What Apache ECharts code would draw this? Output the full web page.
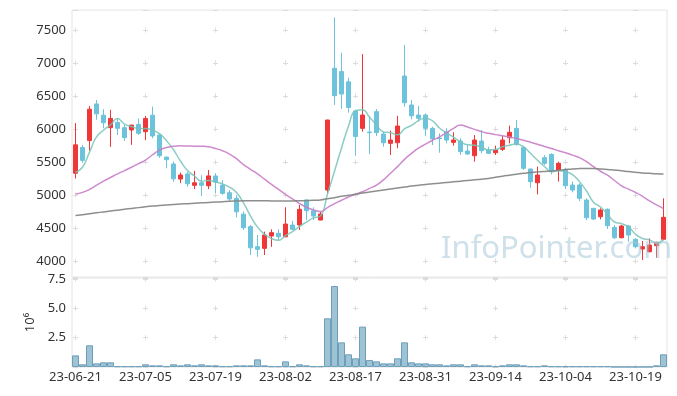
<!DOCTYPE html>
<html><head><meta charset="utf-8">
<script src="https://cdn.jsdelivr.net/npm/echarts@6/dist/echarts.min.js"></script>
<style>html,body{margin:0;padding:0;background:#fff}#c{width:677px;height:396px}</style>
</head><body><div id="c"></div>
<script>
const dates = ['23-06-21','23-06-22','23-06-23','23-06-26','23-06-27','23-06-28','23-06-29','23-06-30','23-07-03','23-07-04','23-07-05','23-07-06','23-07-07','23-07-10','23-07-11','23-07-12','23-07-13','23-07-14','23-07-17','23-07-18','23-07-19','23-07-20','23-07-21','23-07-24','23-07-25','23-07-26','23-07-27','23-07-28','23-07-31','23-08-01','23-08-02','23-08-03','23-08-04','23-08-07','23-08-08','23-08-09','23-08-10','23-08-11','23-08-14','23-08-16','23-08-17','23-08-18','23-08-21','23-08-22','23-08-23','23-08-24','23-08-25','23-08-28','23-08-29','23-08-30','23-08-31','23-09-01','23-09-04','23-09-05','23-09-06','23-09-07','23-09-08','23-09-11','23-09-12','23-09-13','23-09-14','23-09-15','23-09-18','23-09-19','23-09-20','23-09-21','23-09-22','23-09-25','23-09-26','23-09-27','23-10-04','23-10-05','23-10-06','23-10-10','23-10-11','23-10-12','23-10-13','23-10-16','23-10-17','23-10-18','23-10-19','23-10-20','23-10-23','23-10-24','23-10-25'];
const opens = [5330,5720,5825,6380,6210,6020,6100,6020,5985,6070,5960,6210,5910,5575,5470,5242,5318,5147,5186,5140,5288,5150,5035,4950,4710,4520,4217,4192,4380,4420,4368,4545,4545,4924,4762,4621,5076,6920,6870,6715,6273,6010,5955,6263,5925,5783,5792,6803,6364,6212,6212,6010,5862,5959,5798,5818,5667,5596,5818,5682,5641,5692,5868,6010,5717,5394,5186,5565,5616,5379,5389,5151,5151,4924,4798,4671,4783,4510,4353,4530,4329,4182,4141,4232,4329];
const closes = [5760,5525,6300,6230,6095,6160,6010,5870,6060,5935,6160,5895,5595,5535,5245,5303,5170,5186,5147,5290,5197,5025,4940,4745,4505,4200,4177,4394,4430,4368,4560,4480,4783,4762,4682,4712,6136,6505,6530,6325,5885,6212,5945,5945,5792,5833,6045,6398,6200,6162,6010,5850,5855,5833,5833,5656,5621,5833,5671,5632,5682,5833,5950,5768,5405,5202,5303,5480,5368,5480,5141,5076,4950,4656,4636,4773,4535,4353,4530,4394,4217,4217,4242,4283,4662];
const lows = [5250,5490,5670,6140,6010,5730,5910,5820,5760,5910,5830,5860,5565,5405,5200,5180,5125,5090,4985,5090,5030,5005,4900,4660,4470,4090,4065,4090,4215,4308,4360,4470,4470,4620,4620,4620,5025,6365,6305,6247,5595,5960,5620,5895,5732,5606,5708,6338,6147,6111,5894,5758,5641,5783,5748,5606,5606,5505,5632,5621,5606,5667,5783,5748,5379,5110,5010,5455,5313,5202,5091,5040,4909,4621,4621,4631,4485,4333,4343,4292,4192,4015,4131,4050,4318];
const highs = [6090,5760,6350,6440,6300,6290,6160,6060,6065,6160,6200,6340,5915,5580,5505,5340,5350,5365,5300,5380,5330,5225,5075,5000,4750,4545,4395,4445,4480,4480,4815,4610,4848,4930,4813,4745,6140,7690,7155,6777,6290,7135,6197,6303,5960,5975,6200,7273,6440,6348,6237,6035,5935,6010,5950,5859,5758,5909,5985,5732,5748,5894,6050,6136,5748,5400,5430,5606,5632,5505,5414,5202,5177,4950,4805,4798,4798,4545,4545,4545,4343,4303,4343,4292,4950];
const ma5 = [5345,5420,5650,5880,5982,6062,6159,6073,6039,6007,6007,5984,5929,5824,5686,5515,5370,5288,5210,5219,5198,5169,5120,5039,4882,4683,4513,4404,4341,4314,4386,4446,4524,4591,4653,4684,5015,5359,5713,6042,6276,6291,6179,6062,5956,5945,5912,6003,6054,6128,6163,6124,6015,5942,5876,5805,5760,5755,5723,5683,5688,5730,5754,5773,5728,5632,5526,5432,5352,5367,5354,5309,5203,5061,4892,4818,4710,4591,4565,4517,4406,4342,4320,4271,4324];
const ma20 = [5015,5040,5085,5150,5210,5265,5320,5370,5420,5475,5530,5610,5680,5720,5740,5745,5742,5740,5738,5730,5705,5670,5620,5550,5460,5390,5320,5240,5160,5085,5010,4940,4870,4815,4775,4750,4810,4870,4920,4970,5010,5050,5100,5150,5230,5330,5430,5540,5630,5710,5770,5830,5880,5945,6010,6060,6030,5995,5960,5935,5915,5898,5880,5855,5830,5800,5768,5735,5705,5670,5640,5605,5566,5505,5430,5360,5300,5220,5140,5090,5040,4980,4910,4850,4795];
const ma120 = [4688,4702,4716,4730,4744,4758,4771,4784,4797,4809,4821,4832,4841,4849,4856,4863,4869,4875,4881,4887,4893,4899,4905,4909,4912,4913,4913,4912,4911,4910,4910,4911,4913,4916,4920,4926,4945,4960,4980,4995,5010,5030,5045,5060,5075,5090,5105,5120,5135,5148,5160,5170,5180,5190,5200,5210,5220,5230,5240,5252,5268,5285,5300,5315,5328,5340,5350,5358,5365,5375,5385,5395,5400,5403,5400,5395,5388,5378,5368,5355,5345,5335,5328,5322,5318];
const volumes = [0.99,0.23,1.85,0.31,0.40,0.40,0.06,0.06,0.06,0.06,0.23,0.14,0.14,0.06,0.23,0.14,0.23,0.14,0.23,0.14,0.14,0.06,0.06,0.14,0.14,0.14,0.65,0.14,0.06,0.06,0.48,0.06,0.23,0.14,0.06,0.06,4.15,6.9,2.1,1.08,0.74,3.44,0.6,0.48,0.31,0.31,0.74,2.1,0.40,0.31,0.31,0.23,0.23,0.14,0.23,0.23,0.06,0.23,0.14,0.14,0.06,0.14,0.23,0.23,0.14,0.06,0.06,0.14,0.06,0.06,0.06,0.06,0.06,0.06,0.06,0.06,0.06,0.01,0.01,0.01,0.01,0.01,0.01,0.14,1.08];

const candleData = dates.map((d, i) => [opens[i], closes[i], lows[i], highs[i]]);
const FONT = 'Noto Sans';
const crossColor = '#dcdcdc';

const chart = echarts.init(document.getElementById('c'), null, {renderer: 'canvas'});
chart.setOption({
  animation: false,
  backgroundColor: '#fff',
  textStyle: {fontFamily: FONT},
  grid: [
    {left: 72, right: 10, top: 10, height: 267, show: true, borderColor: '#e4e4e4', borderWidth: 1, outerBoundsMode: 'none', containLabel: false},
    {left: 72, right: 10, top: 278, height: 89, show: true, borderColor: '#e4e4e4', borderWidth: 1, outerBoundsMode: 'none', containLabel: false}
  ],
  xAxis: [
    {type: 'category', gridIndex: 0, data: dates, boundaryGap: true,
     axisLine: {show: false}, axisTick: {show: false}, axisLabel: {show: false, interval: 9},
     splitLine: {show: true, interval: 9, alignWithLabel: true,
       lineStyle: {color: crossColor, width: 1, type: [5, 28], dashOffset: 15.5}}},
    {type: 'category', gridIndex: 1, data: dates, boundaryGap: true,
     axisLine: {show: false}, axisTick: {show: false},
     axisLabel: {show: true, interval: 9, fontSize: 13, color: '#333', fontFamily: FONT, margin: 4},
     splitLine: {show: true, interval: 9, alignWithLabel: true,
       lineStyle: {color: crossColor, width: 1, type: [5, 24.33], dashOffset: 1.5}}}
  ],
  yAxis: [
    {type: 'value', gridIndex: 0, min: 3758, max: 7803, splitNumber: 8, scale: true,
     axisLine: {show: false}, axisTick: {show: false},
     axisLabel: {fontSize: 13, color: '#333', fontFamily: FONT, margin: 6,
       formatter: v => (Math.abs(v % 500) < 1e-6 ? String(v) : '')},
     splitLine: {show: true, lineStyle: {color: crossColor, width: 1, type: [5, 65], dashOffset: 69}}},
    {type: 'value', gridIndex: 1, min: 0, max: 7.585, interval: 2.5,
     name: '10\u2076', nameLocation: 'middle', nameRotate: 90, nameGap: 32,
     nameTextStyle: {fontSize: 13, color: '#333', fontFamily: FONT},
     axisLine: {show: false}, axisTick: {show: false},
     axisLabel: {fontSize: 13, color: '#333', fontFamily: FONT, margin: 6,
       formatter: v => (v > 0 && Math.abs(v / 2.5 - Math.round(v / 2.5)) < 1e-6 ? v.toFixed(1) : '')},
     splitLine: {show: true, lineStyle: {color: crossColor, width: 1, type: [5, 65], dashOffset: 69}}}
  ],
  series: [
    {type: 'candlestick', xAxisIndex: 0, yAxisIndex: 0, data: candleData, barWidth: 5,
     itemStyle: {color: '#ef3737', color0: '#6cc3db', borderColor: '#ef3737', borderColor0: '#6cc3db', borderWidth: 1}},
    {type: 'line', name: 'MA5', xAxisIndex: 0, yAxisIndex: 0, data: ma5, symbol: 'none', smooth: true,
     lineStyle: {color: 'rgba(120,195,185,0.85)', width: 1.5}, z: 3},
    {type: 'line', name: 'MA20', xAxisIndex: 0, yAxisIndex: 0, data: ma20, symbol: 'none', smooth: true,
     lineStyle: {color: 'rgba(200,125,200,0.9)', width: 1.5}, z: 3},
    {type: 'line', name: 'MA120', xAxisIndex: 0, yAxisIndex: 0, data: ma120, symbol: 'none', smooth: true,
     lineStyle: {color: 'rgba(130,130,130,0.9)', width: 1.5}, z: 3},
    {type: 'bar', xAxisIndex: 1, yAxisIndex: 1, data: volumes, barCategoryGap: '0%',
     itemStyle: {color: 'rgba(140,185,206,0.85)', borderColor: '#6e9fba', borderWidth: 1}}
  ],
  graphic: [
    {type: 'text', left: 441, top: 234, z: 100, silent: true,
     style: {text: 'InfoPointer.com', fontSize: 31, fontFamily: FONT, fill: 'rgba(165,198,215,0.55)'}}
  ]
});
</script>
</body></html>
